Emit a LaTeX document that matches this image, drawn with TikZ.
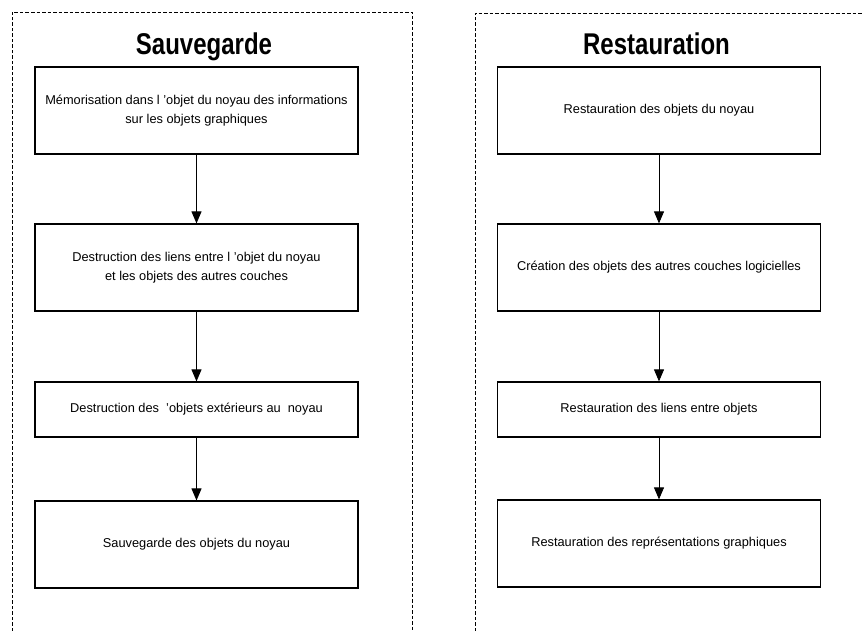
\documentclass[tikz,border=0pt]{standalone}
\usepackage{fontspec}
\setmainfont{Liberation Sans}
\newfontfamily\headfont[FakeStretch=0.8]{Liberation Sans}
\usetikzlibrary{arrows.meta}

\begin{document}
\begin{tikzpicture}[
  x=1pt,y=-1pt,
  stepbox/.style={draw,line width=1.2pt,inner sep=0pt,align=center,
    minimum width=323pt,minimum height=87pt,
    font=\fontsize{12.8}{19}\selectfont},
  flatbox/.style={stepbox,minimum height=55pt},
  panel/.style={dash pattern=on 3.5pt off 2pt,line width=0.8pt},
  flow/.style={-{Triangle[length=12pt,width=10pt]},line width=0.9pt},
  heading/.style={anchor=base,font=\headfont\bfseries\fontsize{30}{36}\selectfont},
]
  \useasboundingbox (0,0) rectangle (862,631);

  % Left: Sauvegarde
  \draw[panel] (12,631) -- (12,12) -- (412,12) -- (412,631);
  \node[heading] (SuT) at (204,55) {Sauvegarde};

  \node[stepbox] (Su1) at (196.5,110.5) {M\'emorisation dans l 'objet du noyau des informations\\sur les objets graphiques};
  \node[stepbox] (Su2) at (196.5,267.5) {Destruction des liens entre l 'objet du noyau\\et les objets des autres couches};
  \node[flatbox] (Su3) at (196.5,409.5) {Destruction des\ \ 'objets ext\'erieurs au\ \ noyau};
  \node[stepbox] (Su4) at (196.5,544.5) {Sauvegarde des objets du noyau};

  \draw[flow] (Su1) -- (Su2);
  \draw[flow] (Su2) -- (Su3);
  \draw[flow] (Su3) -- (Su4);

  % Right: Restauration
  \draw[panel] (475,631) -- (475,13) -- (862,13);
  \node[heading] (ReT) at (656.5,55) {Restauration};

  \node[stepbox] (Re1) at (659,110.5) {Restauration des objets du noyau};
  \node[stepbox] (Re2) at (659,267.5) {Cr\'eation des objets des autres couches logicielles};
  \node[flatbox] (Re3) at (659,409.5) {Restauration des liens entre objets};
  \node[stepbox] (Re4) at (659,543.5) {Restauration des repr\'esentations graphiques};

  \draw[flow] (Re1) -- (Re2);
  \draw[flow] (Re2) -- (Re3);
  \draw[flow] (Re3) -- (Re4);
\end{tikzpicture}
\end{document}
